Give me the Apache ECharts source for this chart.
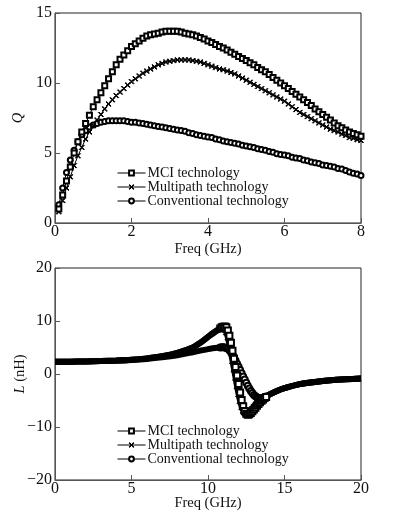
<!DOCTYPE html>
<html>
<head>
<meta charset="utf-8">
<script src="https://cdn.jsdelivr.net/npm/echarts@6/dist/echarts.min.js"></script>
<style>
  html, body { margin: 0; padding: 0; background: #fff; }
  #chart { width: 396px; height: 516px; }
</style>
</head>
<body>
<div id="chart"></div>
<script>
// names
var seriesNames = ['MCI technology', 'Multipath technology', 'Conventional technology'];

// top panel: Q vs freq (GHz)
var qFreq = [0.1,0.2,0.3,0.4,0.5,0.6,0.7,0.8,0.9,1.0,1.1,1.2,1.3,1.4,1.5,1.6,1.7,1.8,1.9,2.0,
  2.1,2.2,2.3,2.4,2.5,2.6,2.7,2.8,2.9,3.0,3.1,3.2,3.3,3.4,3.5,3.6,3.7,3.8,3.9,4.0,
  4.1,4.2,4.3,4.4,4.5,4.6,4.7,4.8,4.9,5.0,5.1,5.2,5.3,5.4,5.5,5.6,5.7,5.8,5.9,6.0,
  6.1,6.2,6.3,6.4,6.5,6.6,6.7,6.8,6.9,7.0,7.1,7.2,7.3,7.4,7.5,7.6,7.7,7.8,7.9,8.0];
var qMci = [1.0,2.0,3.0,4.0,5.0,5.8,6.5,7.1,7.7,8.3,8.8,9.3,9.8,10.3,10.8,11.3,11.7,12.0,12.3,12.6,
  12.8,13.0,13.2,13.35,13.45,13.5,13.55,13.65,13.7,13.7,13.7,13.7,13.65,13.55,13.5,13.45,13.35,13.25,13.15,13.0,
  12.9,12.75,12.6,12.5,12.35,12.2,12.05,11.9,11.75,11.6,11.45,11.3,11.1,10.95,10.8,10.6,10.4,10.2,10.0,9.8,
  9.6,9.4,9.2,9.0,8.8,8.6,8.4,8.15,7.95,7.75,7.55,7.35,7.15,6.95,6.8,6.65,6.5,6.4,6.3,6.2];
var qMulti = [0.8,1.6,2.5,3.3,4.1,4.8,5.4,6.0,6.5,6.95,7.35,7.75,8.15,8.5,8.8,9.1,9.35,9.6,9.85,10.1,
  10.3,10.5,10.7,10.85,11.0,11.15,11.3,11.4,11.5,11.55,11.6,11.65,11.65,11.65,11.65,11.6,11.55,11.5,11.4,11.3,
  11.2,11.1,11.0,10.95,10.85,10.75,10.65,10.5,10.35,10.2,10.05,9.9,9.75,9.6,9.45,9.3,9.15,9.0,8.85,8.7,
  8.5,8.3,8.1,7.9,7.75,7.6,7.45,7.3,7.15,7.0,6.85,6.7,6.6,6.5,6.35,6.25,6.1,6.05,5.95,5.9];
var qConv = [1.3,2.5,3.6,4.5,5.2,5.8,6.3,6.6,6.85,7.0,7.1,7.2,7.25,7.3,7.3,7.3,7.3,7.3,7.25,7.2,
  7.2,7.15,7.1,7.05,7.0,6.95,6.9,6.85,6.8,6.75,6.7,6.65,6.6,6.55,6.45,6.4,6.3,6.25,6.2,6.15,
  6.1,6.0,5.95,5.85,5.8,5.75,5.7,5.65,5.55,5.5,5.45,5.4,5.3,5.25,5.2,5.1,5.05,4.95,4.9,4.85,
  4.8,4.7,4.65,4.6,4.5,4.45,4.35,4.3,4.25,4.15,4.1,4.05,4.0,3.9,3.85,3.75,3.65,3.55,3.5,3.4];

// bottom panel: L (nH) vs freq (GHz)
var lFreq = [0,1,2,3,4,5,6,7,8,9,9.5,10,10.3,10.6,
  10.8,10.9,11.0,11.1,11.2,11.3,11.4,11.5,11.6,11.7,11.8,11.9,12.0,12.1,12.2,12.3,12.4,12.5,12.6,12.7,12.8,12.9,
  13.0,13.1,13.2,13.3,13.4,13.5,13.6,13.7,13.8,
  14,14.5,15,16,17,18,19,20];
var lMci = [2.3,2.33,2.38,2.45,2.55,2.7,2.95,3.35,4.0,5.0,5.9,7.0,7.7,8.3,
  8.6,8.8,8.9,8.95,8.8,8.2,7.2,5.9,4.4,2.9,1.3,-0.3,-1.9,-3.5,-4.9,-6.1,-7.0,-7.5,-7.7,-7.6,-7.35,-7.05,
  -6.7,-6.35,-6.0,-5.65,-5.35,-5.05,-4.8,-4.55,-4.35,
  -3.9,-3.2,-2.65,-1.9,-1.5,-1.2,-1.0,-0.85];
var lMulti = [2.3,2.33,2.38,2.45,2.55,2.7,2.95,3.35,4.0,5.0,5.9,7.0,7.6,8.2,
  8.45,8.6,8.65,8.5,7.9,6.9,5.6,4.1,2.5,0.9,-0.7,-2.3,-3.8,-5.1,-6.2,-6.9,-7.3,-7.45,-7.4,-7.2,-6.95,-6.65,
  -6.3,-5.95,-5.6,-5.3,-5.0,-4.75,-4.55,-4.4,-4.3,
  -3.9,-3.2,-2.65,-1.9,-1.5,-1.2,-1.0,-0.85];
var lConv = [2.3,2.33,2.37,2.43,2.52,2.65,2.85,3.15,3.55,4.1,4.4,4.7,4.85,4.97,
  5.02,5.05,5.05,5.0,4.9,4.75,4.5,4.15,3.7,3.15,2.55,1.95,1.35,0.75,0.15,-0.45,-1.05,-1.65,-2.2,-2.75,-3.2,-3.6,
  -3.95,-4.2,-4.4,-4.55,-4.6,-4.6,-4.5,-4.4,-4.25,
  -3.9,-3.2,-2.65,-1.9,-1.5,-1.2,-1.0,-0.85];

// tick ranges
var qTicks = { min: 0, max: 15, interval: 5 };
var fTopTicks = { min: 0, max: 8, interval: 2 };
var lTicks = { min: -20, max: 20, interval: 10 };
var fBotTicks = { min: 0, max: 20, interval: 5 };

var FONT = '"Liberation Serif", "DejaVu Serif", serif';
var crossPath = 'path://M0,1L1,0L5,4L9,0L10,1L6,5L10,9L9,10L5,6L1,10L0,9L4,5Z';
var symbols = ['emptyRect', crossPath, 'emptyCircle'];

function pairs(xs, ys) {
  return xs.map(function (x, i) { return [x, ys[i]]; });
}

function minus(v) {
  return String(v).replace('-', '\u2212');
}

function xAxisCfg(idx, t, gap) {
  return {
    gridIndex: idx, type: 'value', min: t.min, max: t.max, interval: t.interval,
    name: 'Freq (GHz)', nameLocation: 'middle', nameGap: gap, nameMoveOverlap: false,
    nameTextStyle: { fontFamily: FONT, fontSize: 14.5, color: '#111' },
    axisLine: { onZero: false, lineStyle: { color: '#555', width: 1 } },
    axisTick: { inside: true, length: 5, lineStyle: { color: '#555' } },
    axisLabel: { fontFamily: FONT, fontSize: 16, color: '#111', margin: 1 },
    splitLine: { show: false }
  };
}

function yAxisCfg(idx, t, name, gap) {
  return {
    gridIndex: idx, type: 'value', min: t.min, max: t.max, interval: t.interval,
    name: name, nameLocation: 'middle', nameGap: gap, nameMoveOverlap: false,
    nameTextStyle: {
      fontFamily: FONT, fontSize: 14.5, color: '#111',
      rich: { i: { fontFamily: FONT, fontSize: 14.5, fontStyle: 'italic', color: '#111' } }
    },
    axisLine: { onZero: false, lineStyle: { color: '#555', width: 1 } },
    axisTick: { inside: true, length: 5, lineStyle: { color: '#555' } },
    axisLabel: { fontFamily: FONT, fontSize: 16, color: '#111', margin: 3, formatter: minus },
    splitLine: { show: false }
  };
}

var series = [];
[qMci, qMulti, qConv].forEach(function (vals, i) {
  series.push({
    name: seriesNames[i], type: 'line', xAxisIndex: 0, yAxisIndex: 0,
    data: pairs(qFreq, vals),
    symbol: symbols[i], symbolSize: 5, showAllSymbol: true,
    lineStyle: { color: '#000', width: 1 },
    itemStyle: { color: '#000', borderColor: '#000', borderWidth: 1 },
    animation: false, z: 3 - i
  });
});
[lMci, lMulti, lConv].forEach(function (vals, i) {
  series.push({
    name: seriesNames[i], type: 'line', xAxisIndex: 1, yAxisIndex: 1,
    data: pairs(lFreq, vals),
    smooth: 0.3,
    symbol: symbols[i], showAllSymbol: true,
    symbolSize: function (v) { return (v[0] >= 10.8 && v[0] <= 13.8) ? 6 : 0; },
    lineStyle: { color: '#000', width: 6 },
    itemStyle: { color: '#000', borderColor: '#000', borderWidth: 1 },
    animation: false, z: 3 - i
  });
});

function legendCfg(top) {
  return {
    data: seriesNames, orient: 'vertical', left: 117, top: top,
    padding: 0,
    itemWidth: 28, itemHeight: 6, itemGap: 0,
    selectedMode: false,
    lineStyle: { width: 1, color: '#000' },
    itemStyle: { borderWidth: 1 },
    textStyle: { fontFamily: FONT, fontSize: 14, color: '#111', lineHeight: 14, padding: [0, 0, 0, -3] }
  };
}

var chart = echarts.init(document.getElementById('chart'), null, { renderer: 'canvas' });
chart.setOption({
  backgroundColor: '#fff',
  animation: false,
  grid: [
    { left: 55, top: 13, width: 306, height: 210, show: true, borderColor: '#222', borderWidth: 1, outerBoundsMode: 'none', containLabel: false },
    { left: 55, top: 268, width: 306, height: 212, show: true, borderColor: '#222', borderWidth: 1, outerBoundsMode: 'none', containLabel: false }
  ],
  xAxis: [xAxisCfg(0, fTopTicks, 19), xAxisCfg(1, fBotTicks, 16)],
  yAxis: [yAxisCfg(0, qTicks, '{i|Q}', 29), yAxisCfg(1, lTicks, '{i|L} (nH)', 27)],
  legend: [legendCfg(166), legendCfg(424)],
  series: series
});
</script>
</body>
</html>
